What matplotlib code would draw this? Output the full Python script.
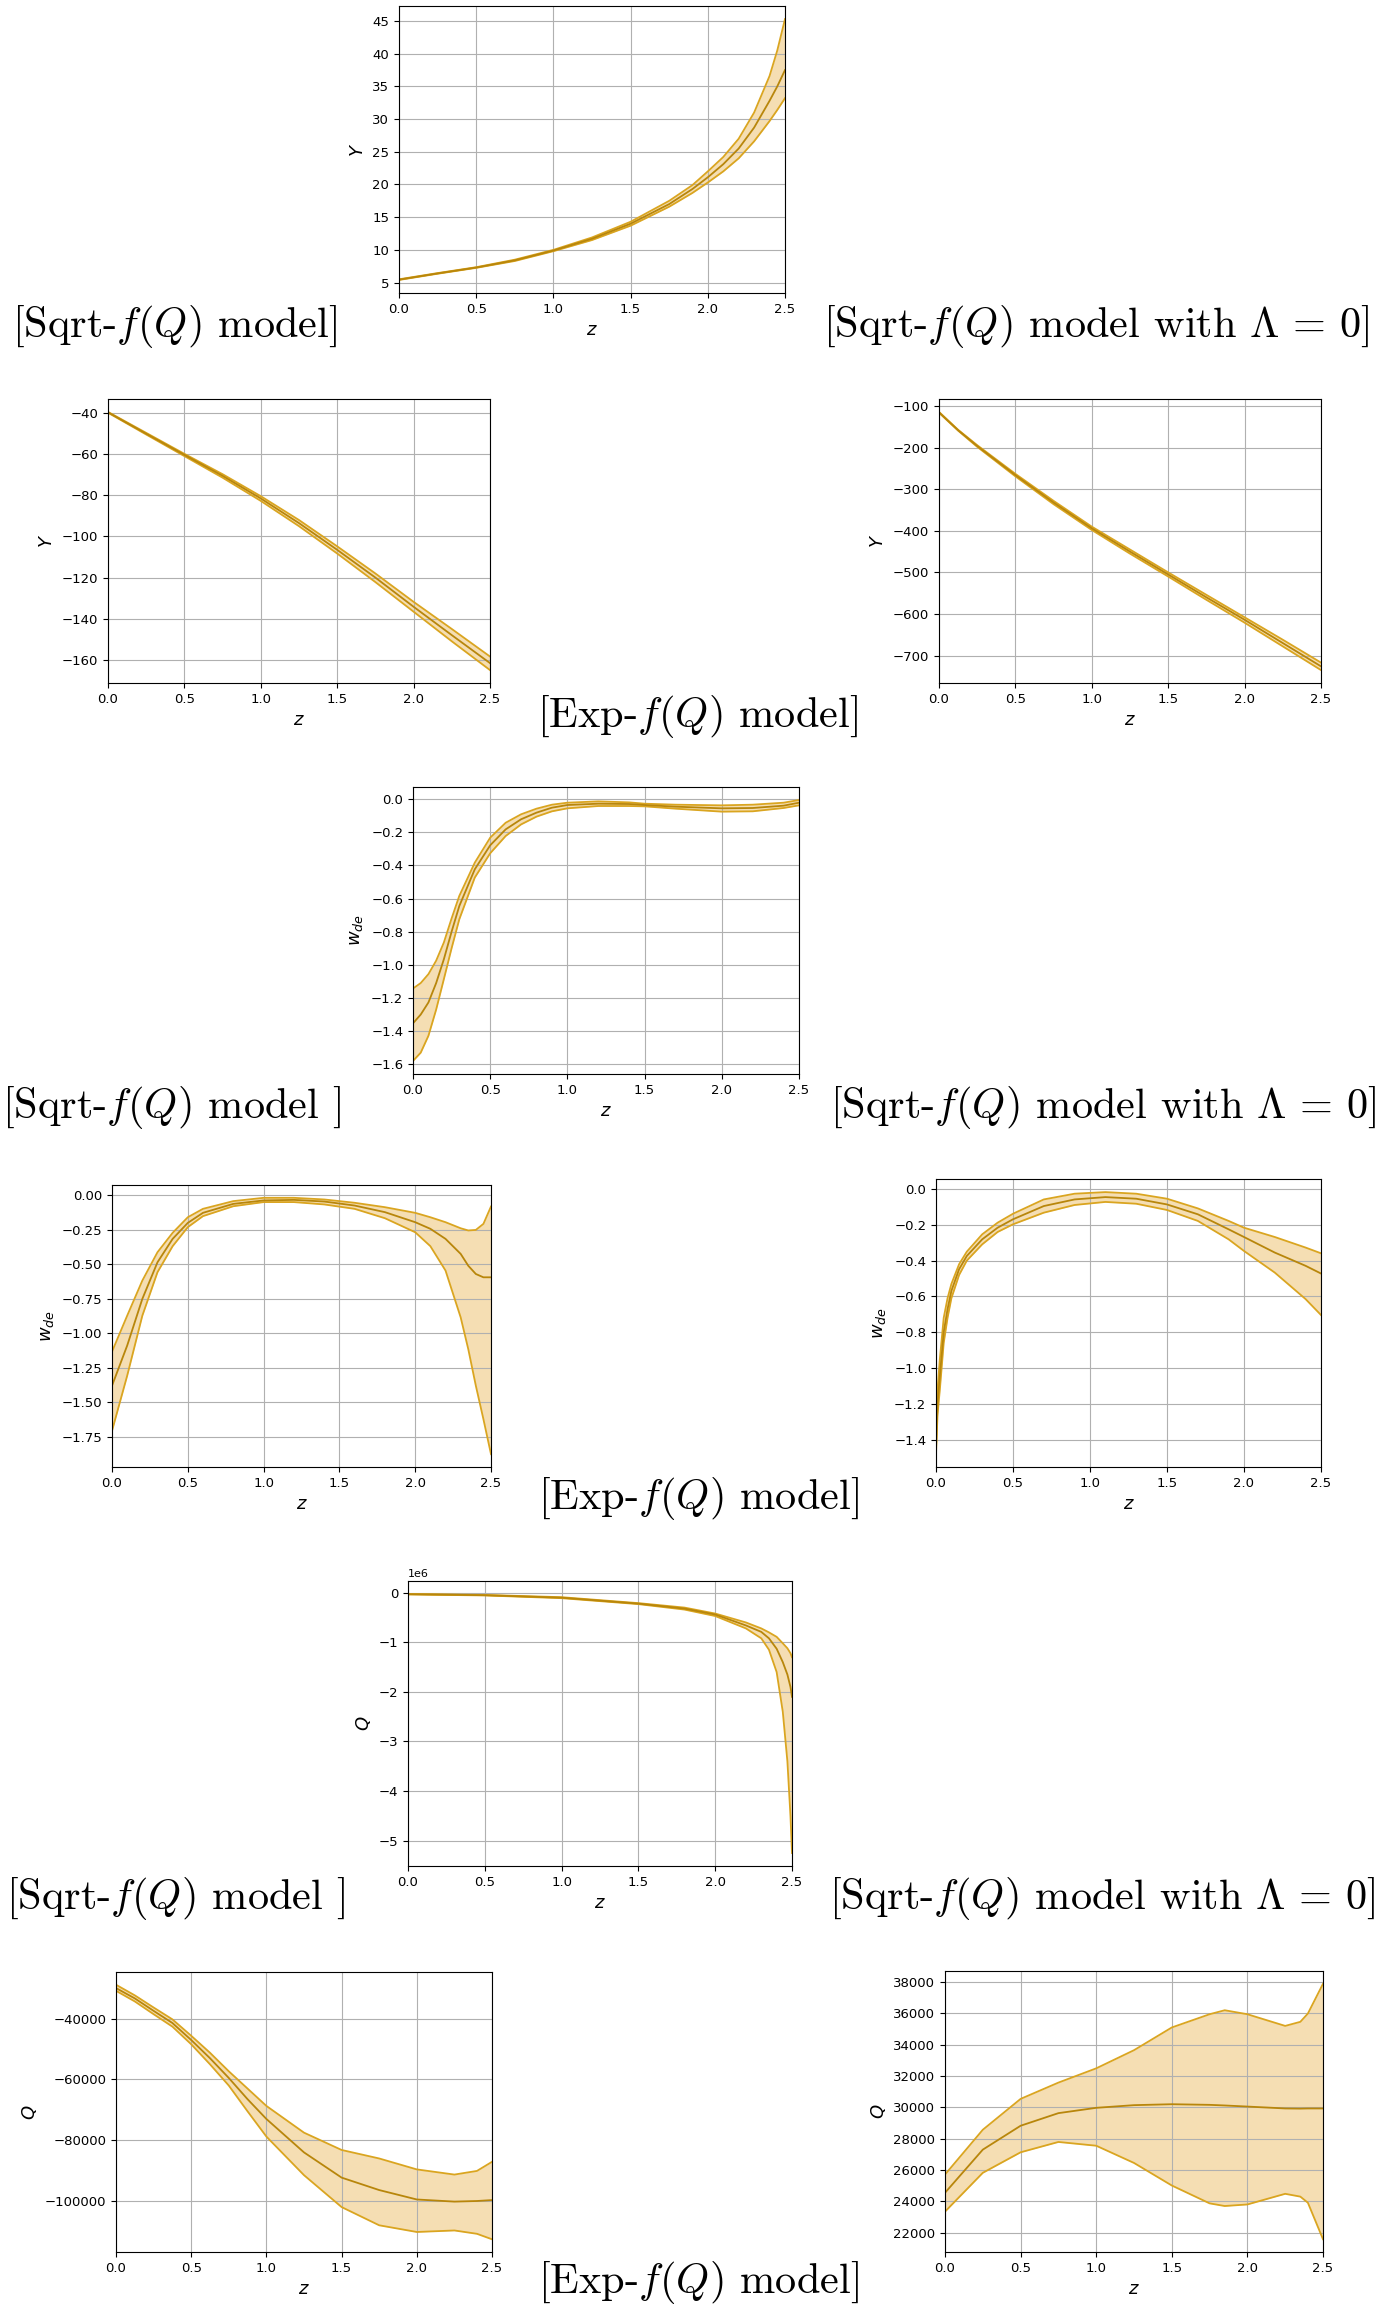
import numpy as np
import matplotlib.pyplot as plt

plt.rcParams['mathtext.fontset'] = 'dejavusans'

W, H = 1379, 2308

# ---------------- data ----------------
# Sqrt Y (top centre)
z_y_sqrt = [0.0, 0.25, 0.5, 0.75, 1.0, 1.25, 1.5, 1.75, 1.9, 2.0, 2.1, 2.2, 2.3, 2.4, 2.45, 2.5]
y_sqrt_mid = [5.45, 6.4, 7.3, 8.4, 9.9, 11.7, 14.0, 17.0, 19.3, 21.1, 23.1, 25.5, 28.7, 32.8, 35.0, 37.5]
y_sqrt_lo = [5.4, 6.35, 7.25, 8.3, 9.8, 11.5, 13.7, 16.6, 18.7, 20.3, 22.0, 24.0, 26.6, 29.7, 31.4, 33.2]
y_sqrt_hi = [5.5, 6.45, 7.35, 8.5, 10.0, 11.9, 14.3, 17.5, 19.9, 22.0, 24.2, 27.0, 31.0, 36.6, 40.5, 45.3]

# Exp Y (left)
z_y_exp = [0.0, 0.25, 0.5, 0.75, 1.0, 1.25, 1.5, 1.75, 2.0, 2.25, 2.5]
y_exp_mid = [-39.6, -50.0, -60.3, -70.5, -81.5, -93.5, -106.5, -120.0, -134.2, -148.0, -161.6]
y_exp_lo = [-39.8, -50.4, -60.9, -71.4, -82.7, -95.0, -108.3, -122.2, -136.6, -151.0, -165.0]
y_exp_hi = [-39.4, -49.6, -59.8, -69.7, -80.4, -92.0, -104.8, -118.0, -131.8, -145.0, -158.4]

# Sqrt Lambda=0 Y (right)
z_y_l0 = [0.0, 0.125, 0.25, 0.5, 0.75, 1.0, 1.25, 1.5, 1.75, 2.0, 2.25, 2.5]
y_l0_mid = [-115, -158, -196, -266, -332, -394, -450, -505, -560, -614, -670, -726]
y_l0_lo = [-116, -159, -198, -269, -336, -398, -455, -510, -566, -621, -678, -735]
y_l0_hi = [-114, -157, -194, -263, -328, -390, -445, -500, -554, -608, -662, -717]

# Sqrt w_de (centre)
z_w_sqrt = [0.0, 0.05, 0.1, 0.15, 0.2, 0.25, 0.3, 0.4, 0.5, 0.6, 0.7, 0.8, 0.9, 1.0, 1.2, 1.4, 1.5,
            1.7, 2.0, 2.2, 2.4, 2.5]
w_sqrt_mid = [-1.353, -1.300, -1.227, -1.110, -0.966, -0.800, -0.645, -0.424, -0.279, -0.183, -0.122,
              -0.082, -0.052, -0.036, -0.028, -0.030, -0.036, -0.046, -0.056, -0.054, -0.040, -0.022]
w_sqrt_lo = [-1.580, -1.530, -1.428, -1.270, -1.086, -0.900, -0.725, -0.474, -0.327, -0.223, -0.153,
             -0.106, -0.074, -0.056, -0.042, -0.042, -0.044, -0.058, -0.076, -0.074, -0.054, -0.038]
w_sqrt_hi = [-1.143, -1.110, -1.056, -0.975, -0.865, -0.720, -0.584, -0.384, -0.233, -0.143, -0.092,
             -0.058, -0.034, -0.022, -0.014, -0.020, -0.028, -0.034, -0.038, -0.034, -0.022, -0.006]

# Exp w_de (left)
z_w_exp = [0.0, 0.1, 0.2, 0.3, 0.4, 0.5, 0.6, 0.8, 1.0, 1.2, 1.4, 1.6, 1.8, 2.0, 2.1, 2.2, 2.3, 2.35,
           2.4, 2.45, 2.5]
w_exp_mid = [-1.381, -1.090, -0.751, -0.485, -0.315, -0.199, -0.126, -0.061, -0.036, -0.032, -0.044,
             -0.073, -0.121, -0.194, -0.242, -0.315, -0.424, -0.510, -0.570, -0.594, -0.594]
w_exp_lo = [-1.709, -1.309, -0.873, -0.557, -0.368, -0.230, -0.150, -0.078, -0.048, -0.048, -0.065,
            -0.097, -0.165, -0.267, -0.368, -0.545, -0.885, -1.115, -1.381, -1.624, -1.878]
w_exp_hi = [-1.134, -0.873, -0.618, -0.412, -0.271, -0.158, -0.097, -0.041, -0.017, -0.017, -0.029,
            -0.053, -0.085, -0.126, -0.158, -0.194, -0.238, -0.254, -0.250, -0.206, -0.080]

# Sqrt Lambda=0 w_de (right)
z_w_l0 = [0.0, 0.01, 0.025, 0.05, 0.075, 0.1, 0.15, 0.2, 0.3, 0.4, 0.5, 0.7, 0.9, 1.1, 1.3, 1.5, 1.7,
          1.9, 2.0, 2.2, 2.4, 2.5]
w_l0_mid = [-1.452, -1.20, -1.043, -0.800, -0.671, -0.569, -0.448, -0.374, -0.281, -0.216, -0.169,
            -0.095, -0.058, -0.045, -0.054, -0.086, -0.141, -0.225, -0.268, -0.355, -0.429, -0.472]
w_l0_lo = [-1.480, -1.26, -1.120, -0.860, -0.720, -0.610, -0.480, -0.400, -0.309, -0.240, -0.197,
           -0.132, -0.089, -0.072, -0.082, -0.117, -0.178, -0.281, -0.346, -0.467, -0.615, -0.704]
w_l0_hi = [-1.300, -1.12, -0.950, -0.720, -0.610, -0.530, -0.420, -0.350, -0.253, -0.188, -0.138,
           -0.058, -0.026, -0.017, -0.026, -0.054, -0.108, -0.178, -0.216, -0.268, -0.327, -0.359]

# Sqrt Q (centre), units of 1e6
z_q_sqrt = [0.0, 0.5, 1.0, 1.5, 1.8, 2.0, 2.2, 2.3, 2.35, 2.4, 2.44, 2.47, 2.49, 2.5]
q_sqrt_mid = [-0.03, -0.05, -0.10, -0.22, -0.32, -0.44, -0.66, -0.79, -0.92, -1.13, -1.40, -1.65, -1.90, -2.10]
q_sqrt_lo = [-0.035, -0.055, -0.11, -0.23, -0.34, -0.47, -0.72, -0.92, -1.15, -1.60, -2.40, -3.40, -4.50, -5.25]
q_sqrt_hi = [-0.025, -0.045, -0.09, -0.21, -0.30, -0.42, -0.60, -0.72, -0.80, -0.89, -1.02, -1.12, -1.22, -1.30]

# Exp Q (left)
z_q_exp = [0.0, 0.125, 0.25, 0.375, 0.5, 0.625, 0.75, 0.875, 1.0, 1.25, 1.5, 1.75, 2.0, 2.25, 2.4, 2.5]
q_exp_mid = [-29900, -33300, -37400, -41400, -47000, -53000, -59500, -66500, -73000, -84000, -92300,
             -96400, -99500, -100200, -100000, -99700]
q_exp_lo = [-30800, -34300, -38500, -42600, -48400, -55000, -62000, -70500, -78800, -91500, -102000,
            -108000, -110200, -109700, -110800, -112600]
q_exp_hi = [-28800, -32300, -36300, -40200, -45600, -51200, -57300, -63000, -68700, -77500, -83200,
            -86000, -89600, -91300, -90100, -87100]

# Sqrt Lambda=0 Q (right)
z_q_l0 = [0.0, 0.25, 0.5, 0.75, 1.0, 1.25, 1.5, 1.75, 1.85, 2.0, 2.25, 2.35, 2.4, 2.5]
q_l0_mid = [24545, 27300, 28825, 29630, 29970, 30140, 30200, 30160, 30120, 30050, 29930, 29920, 29930, 29930]
q_l0_lo = [23340, 25820, 27130, 27790, 27550, 26450, 25010, 23870, 23700, 23800, 24480, 24300, 23910, 21580]
q_l0_hi = [25710, 28570, 30540, 31580, 32490, 33650, 35100, 35945, 36200, 35945, 35200, 35460, 35990, 37890]

SQRT = r"[Sqrt-$f(Q)$ model]"
SQRT_SP = r"[Sqrt-$f(Q)$ model ]"
SQRT_L0 = r"[Sqrt-$f(Q)$ model with $\Lambda\,=\,0$]"
EXP = r"[Exp-$f(Q)$ model]"

# ---------------- figure ----------------
fig = plt.figure(figsize=(W / 100, H / 100), dpi=100)


def panel(box, z, mid, lo, hi, ylabel):
    x0, x1, y0, y1 = box
    ax = fig.add_axes([x0 / W, 1 - y1 / H, (x1 - x0) / W, (y1 - y0) / H])
    ax.fill_between(z, lo, hi, color='wheat', lw=0)
    ax.plot(z, lo, color='goldenrod', lw=1.3)
    ax.plot(z, hi, color='goldenrod', lw=1.3)
    ax.plot(z, mid, color='darkgoldenrod', lw=1.3)
    ax.set_xlim(0, 2.5)
    ax.grid(True)
    ax.tick_params(labelsize=9.5)
    ax.set_xlabel(r'$z$', fontsize=13)
    ax.set_ylabel(ylabel, fontsize=13)
    return ax


def caption(x, y, s, ha='center'):
    fig.text(x / W, 1 - y / H, s, ha=ha, va='center', fontsize=30.5,
             family='cmr10', math_fontfamily='cm')


panel((399, 785, 6, 293), z_y_sqrt, y_sqrt_mid, y_sqrt_lo, y_sqrt_hi, r'$Y$')
panel((108, 490, 399, 683), z_y_exp, y_exp_mid, y_exp_lo, y_exp_hi, r'$Y$')
panel((939, 1321, 399, 683), z_y_l0, y_l0_mid, y_l0_lo, y_l0_hi, r'$Y$')

panel((413, 799, 787, 1074), z_w_sqrt, w_sqrt_mid, w_sqrt_lo, w_sqrt_hi, r'$w_{de}$')
panel((112, 491, 1185, 1467), z_w_exp, w_exp_mid, w_exp_lo, w_exp_hi, r'$w_{de}$')
panel((936, 1321, 1179, 1467), z_w_l0, w_l0_mid, w_l0_lo, w_l0_hi, r'$w_{de}$')

axq = panel((408, 792, 1581, 1866), z_q_sqrt, np.array(q_sqrt_mid) * 1e6,
            np.array(q_sqrt_lo) * 1e6, np.array(q_sqrt_hi) * 1e6, r'$Q$')
axq.yaxis.get_offset_text().set_fontsize(8)
panel((116, 492, 1972, 2252), z_q_exp, q_exp_mid, q_exp_lo, q_exp_hi, r'$Q$')
panel((945, 1323, 1971, 2252), z_q_l0, q_l0_mid, q_l0_lo, q_l0_hi, r'$Q$')

caption(12, 327, SQRT, 'left')
caption(1369, 327, SQRT_L0, 'right')
caption(697, 717, EXP)
caption(2, 1107, SQRT_SP, 'left')
caption(1376, 1107, SQRT_L0, 'right')
caption(698, 1498, EXP)
caption(6, 1898, SQRT_SP, 'left')
caption(1375, 1898, SQRT_L0, 'right')
caption(698, 2283, EXP)

fig.savefig('out.png', dpi=100)
